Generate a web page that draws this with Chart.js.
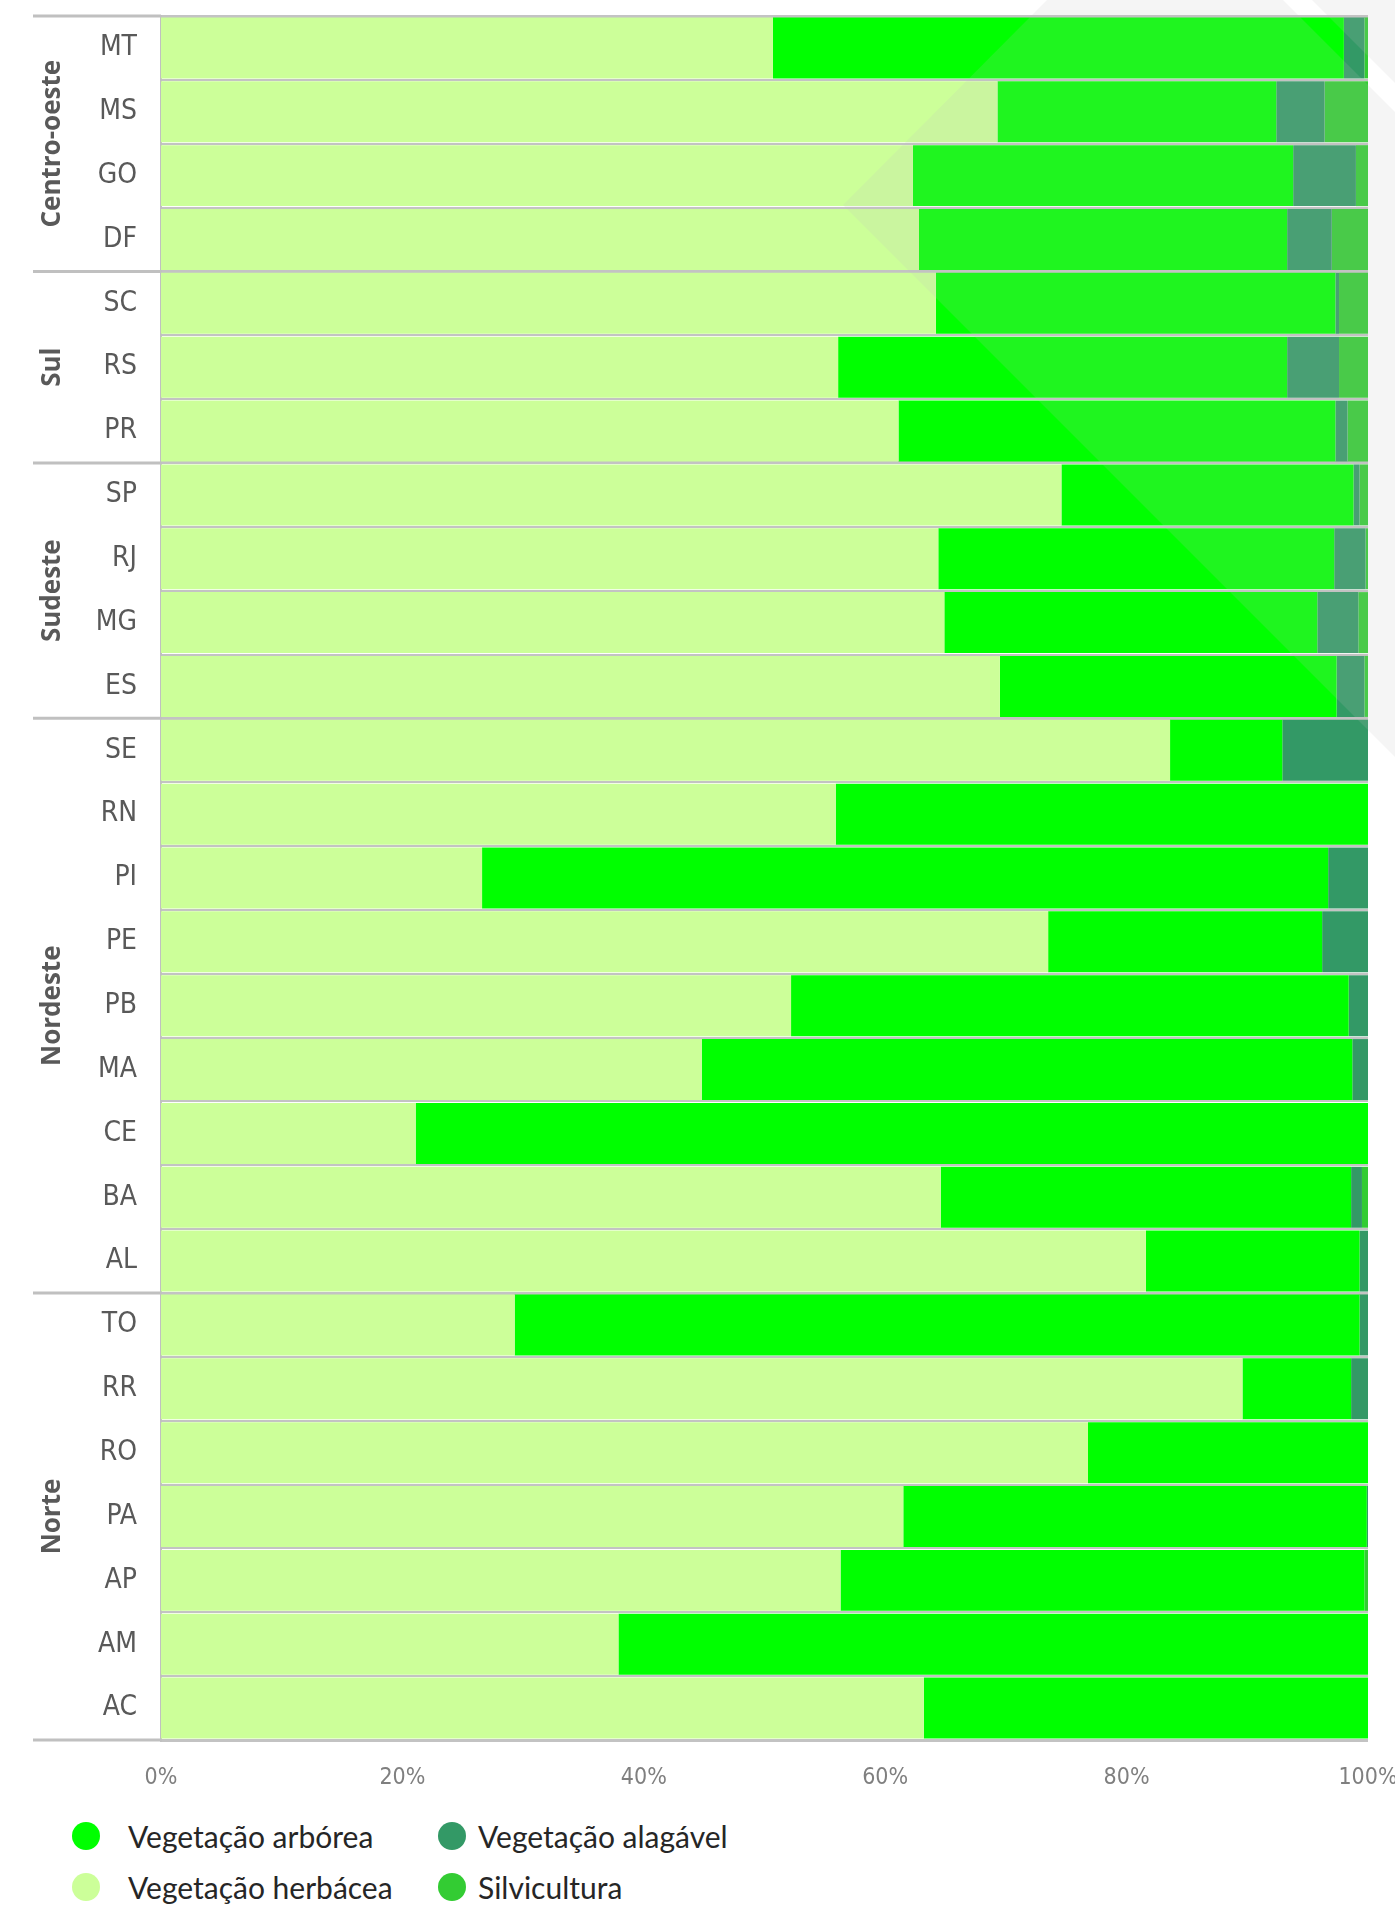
<!DOCTYPE html>
<html>
<head>
<meta charset="utf-8">
<script src="https://cdn.jsdelivr.net/npm/chart.js@4/dist/chart.umd.min.js"></script>
<style>
   html, body { margin: 0; padding: 0; background: #fff; }
   #wrap { position: relative; width: 1395px; height: 1905px; overflow: hidden; }
   #grafico { display: block; }
   .item { position: absolute; height: 36px; line-height: 36px; font-family: Lato, 'Open Sans', sans-serif; font-size: 30px; color: #262626; white-space: nowrap; }
   .bola { position: absolute; width: 28px; height: 28px; border-radius: 50%; }
</style>
</head>
<body>
<div id="wrap">
   <canvas id="grafico" width="1395" height="1800"></canvas>
   <div id="legenda"></div>
</div>
<script>
// -----------------------------------------------------------------------------
// dados (percentual de cada classe por estado)
// -----------------------------------------------------------------------------
const estados = ['MT', 'MS', 'GO', 'DF', 'SC', 'RS', 'PR', 'SP', 'RJ', 'MG', 'ES',
   'SE', 'RN', 'PI', 'PE', 'PB', 'MA', 'CE', 'BA', 'AL',
   'TO', 'RR', 'RO', 'PA', 'AP', 'AM', 'AC'];

const herbacea     = [50.7, 69.3, 62.3, 62.8, 64.2, 56.1, 61.1, 74.6, 64.4, 64.9, 69.5,
   83.6, 55.9, 26.6, 73.5, 52.2, 44.8, 21.1, 64.6, 81.6,
   29.3, 89.6, 76.8, 61.5, 56.3, 37.9, 63.2];
const arborea      = [47.3, 23.1, 31.5, 30.5, 33.1, 37.2, 36.2, 24.2, 32.8, 30.9, 27.9,
   9.3, 44.1, 70.1, 22.7, 46.2, 53.9, 78.9, 34.0, 17.7,
   70.0, 9.0, 23.2, 38.4, 43.4, 62.1, 36.8];
const alagavel     = [1.7, 4.0, 5.2, 3.7, 0.3, 4.3, 1.0, 0.5, 2.6, 3.4, 2.3,
   7.1, 0, 3.3, 3.8, 1.6, 1.3, 0, 0.9, 0.7,
   0.7, 1.4, 0, 0.1, 0, 0, 0];
const silvicultura = [0.3, 3.6, 1.0, 3.0, 2.4, 2.4, 1.7, 0.7, 0.2, 0.8, 0.3,
   0, 0, 0, 0, 0, 0, 0, 0.5, 0,
   0, 0, 0, 0, 0.3, 0, 0];

const regioes       = ['Centro-oeste', 'Sul', 'Sudeste', 'Nordeste', 'Norte'];
const estadosRegiao = [4, 3, 4, 9, 7];

const ticksX = [0, 20, 40, 60, 80, 100];

const series = [
   {nome: 'Vegetação herbácea', dados: herbacea,     cor: '#CCFF99'},
   {nome: 'Vegetação arbórea',  dados: arborea,      cor: '#00FF00'},
   {nome: 'Vegetação alagável', dados: alagavel,     cor: '#339966'},
   {nome: 'Silvicultura',       dados: silvicultura, cor: '#33CC33'}
];

// ordem da legenda (duas colunas)
const ordemLegenda = [1, 2, 0, 3];

// indices onde começa cada região (linhas mais grossas)
let limites = [0];
estadosRegiao.forEach(n => limites.push(limites[limites.length - 1] + n));

const fonteEixo = "'Liberation Sans Narrow', 'DejaVu Sans Condensed', 'Liberation Sans', sans-serif";

// -----------------------------------------------------------------------------
// plugin: nomes das regiões e separadores à esquerda
// -----------------------------------------------------------------------------
const pluginRegioes = {
   id: 'regioes',
   afterDraw(chart) {
      const ctx = chart.ctx;
      const y = chart.scales.y;
      const meio = (y.getPixelForTick(1) - y.getPixelForTick(0)) / 2;
      const esquerda = chart.chartArea.left;

      ctx.save();
      ctx.strokeStyle = '#c0c0c0';
      ctx.lineWidth = 3;
      for (let i = 0; i < limites.length; i++) {
         let py = (limites[i] < estados.length) ? y.getPixelForTick(limites[i]) - meio : y.getPixelForTick(estados.length - 1) + meio;
         ctx.beginPath();
         ctx.moveTo(33, py);
         ctx.lineTo(esquerda, py);
         ctx.stroke();
      }

      ctx.fillStyle = '#595959';
      ctx.font = "bold 26px 'Open Sans', sans-serif";
      ctx.textAlign = 'center';
      ctx.textBaseline = 'middle';
      regioes.forEach((nome, i) => {
         const topo = y.getPixelForTick(limites[i]) - meio;
         const base = y.getPixelForTick(limites[i + 1] - 1) + meio;
         ctx.save();
         ctx.translate(53, (topo + base) / 2);
         ctx.rotate(-Math.PI / 2);
         ctx.fillText(nome, 0, 0);
         ctx.restore();
      });
      ctx.restore();
   }
};

// marca d'água cinza clara no canto superior direito
const pluginMarca = {
   id: 'marca',
   afterDraw(chart) {
      const ctx = chart.ctx;
      ctx.save();
      ctx.fillStyle = 'rgba(190,190,190,0.16)';
      ctx.beginPath();
      ctx.moveTo(1047, 0);
      ctx.lineTo(843, 205);
      ctx.lineTo(1395, 757);
      ctx.lineTo(1395, 0);
      ctx.closePath();
      ctx.moveTo(1283, 0);
      ctx.lineTo(1312, 0);
      ctx.lineTo(1395, 83);
      ctx.lineTo(1395, 112);
      ctx.closePath();
      ctx.fill('evenodd');
      ctx.restore();
   }
};

// -----------------------------------------------------------------------------
// gráfico
// -----------------------------------------------------------------------------
const grafico = new Chart(document.getElementById('grafico'), {
   type: 'bar',
   data: {
      labels: estados,
      datasets: series.map(s => ({
         label: s.nome,
         data: s.dados,
         backgroundColor: s.cor,
         borderWidth: 0,
         barPercentage: 1,
         categoryPercentage: 0.955
      }))
   },
   options: {
      indexAxis: 'y',
      responsive: false,
      animation: false,
      layout: {
         padding: {top: 16, right: 27, bottom: 0, left: 0}
      },
      plugins: {
         legend: {display: false},
         tooltip: {enabled: false}
      },
      scales: {
         x: {
            stacked: true,
            min: 0,
            max: 100,
            afterFit: s => {
               s.height = 60;
               s.paddingLeft = 0;
               s.paddingRight = 0;
            },
            afterBuildTicks: s => { s.ticks = ticksX.map(v => ({value: v})); },
            grid: {display: false},
            border: {display: false},
            ticks: {
               color: '#7f7f7f',
               padding: 16,
               font: {family: fonteEixo, size: 23},
               callback: v => v + '%'
            }
         },
         y: {
            stacked: true,
            afterFit: s => {
               s.width = 161;
               s.paddingTop = 0;
               s.paddingBottom = 0;
            },
            grid: {
               offset: true,
               drawTicks: false,
               color: '#c3c3c3',
               lineWidth: c => (c.index === undefined || limites.includes(c.index)) ? 3 : 2
            },
            border: {display: true, color: '#c0c0c0', width: 2},
            ticks: {
               color: '#595959',
               padding: 24,
               font: {family: fonteEixo, size: 28}
            }
         }
      }
   },
   plugins: [pluginRegioes, pluginMarca]
});

// -----------------------------------------------------------------------------
// legenda em duas colunas
// -----------------------------------------------------------------------------
const legenda = document.getElementById('legenda');
const colunas = [{bola: 72, texto: 128}, {bola: 438, texto: 478}];
const linhas = [1836, 1887];
ordemLegenda.forEach((idx, n) => {
   const col = colunas[n % 2];
   const cy = linhas[Math.floor(n / 2)];
   const bola = document.createElement('span');
   bola.className = 'bola';
   bola.style.left = col.bola + 'px';
   bola.style.top = (cy - 14) + 'px';
   bola.style.background = series[idx].cor;
   legenda.appendChild(bola);

   const txt = document.createElement('span');
   txt.className = 'item';
   txt.style.left = col.texto + 'px';
   txt.style.top = (cy - 18) + 'px';
   txt.textContent = series[idx].nome;
   legenda.appendChild(txt);
});
</script>
</body>
</html>
